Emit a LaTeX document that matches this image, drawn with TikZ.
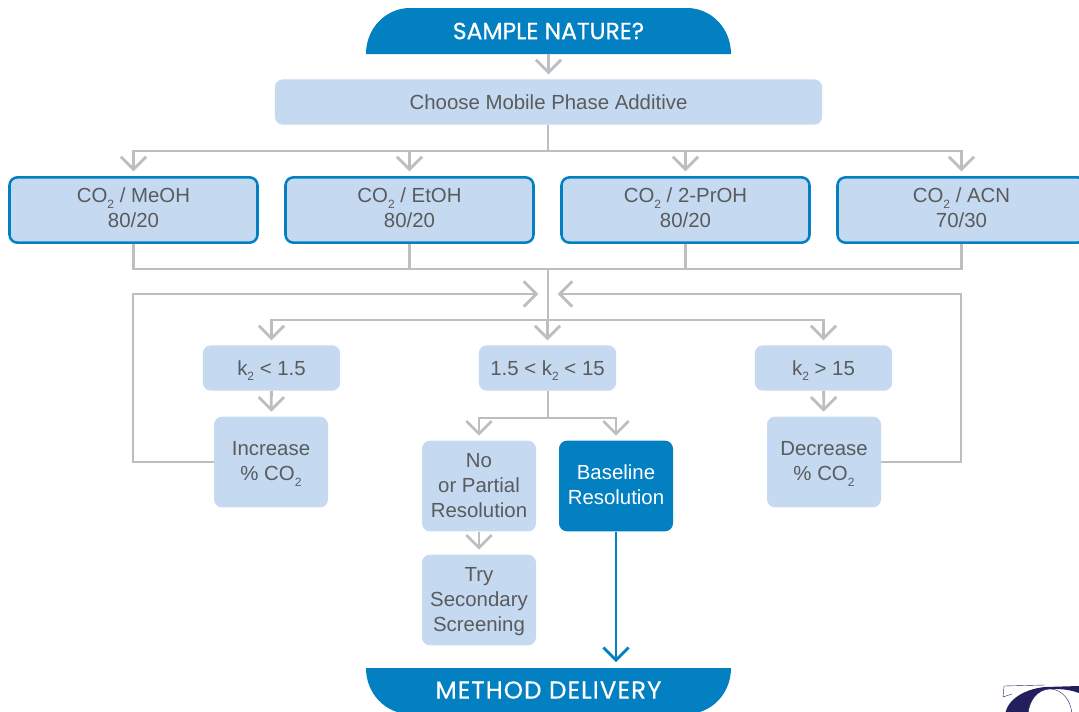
\documentclass[tikz,border=0pt]{standalone}
\usepackage{fontspec}
\setmainfont{Liberation Sans}
\newfontfamily\headfont{Poppins}[FakeBold=0.5]
\usetikzlibrary{arrows.meta, positioning}
\definecolor{brandblue}{HTML}{0380C2}
\definecolor{paleblue}{HTML}{C5D9F1}
\definecolor{linegrey}{HTML}{BCBEC0}
\definecolor{textgrey}{HTML}{5A5B5D}
\definecolor{logonavy}{HTML}{231F5C}
\tikzset{%
	box/.style={rectangle, rounded corners=6pt, fill=paleblue, text=textgrey, inner sep=0pt, align=center,%
		font=\fontsize{15.3}{18.75}\selectfont},
	additive/.style={box, minimum width=410.5pt, minimum height=34pt},
	solvent/.style={box, draw=brandblue, line width=1.9pt, minimum width=186pt, minimum height=49pt, text depth=3pt},
	kbox/.style={box, minimum width=103pt, minimum height=34pt},
	action/.style={box, minimum width=85.5pt, minimum height=68pt, text depth=0.8pt},
	goal/.style={action, fill=brandblue, text=white, text depth=1.5pt},
	banner/.style={rectangle, minimum width=273.75pt, minimum height=34.5pt, inner sep=0pt, text=white,%
		font=\headfont\fontsize{17.6}{20}\selectfont},
	flow/.style={-{Straight Barb[length=9.5pt, width=19pt, line width=2.1pt]}, linegrey, line width=2.1pt, shorten >=3.5pt},
	link/.style={linegrey, line width=2.1pt},
	final/.style={flow, brandblue}
}
\newcommand{\subtwo}{\raisebox{-0.5ex}[0pt][0pt]{\fontsize{9}{9}\selectfont 2}}

\begin{document}
\begin{tikzpicture}[x=0.75pt, y=-0.75pt]
  \useasboundingbox (0,0) rectangle (1079,711);

  \fill[brandblue] (366,54) .. controls (366,28) and (386,8) .. (410,8) -- (687,8) .. controls (711,8) and (731,28) .. (731,54) -- cycle;
  \fill[brandblue] (366,668) .. controls (366,694) and (386,714) .. (410,714) -- (687,714) .. controls (711,714) and (731,694) .. (731,668) -- cycle;
  \node[banner] (start) at (548.5,31) {SAMPLE NATURE?};
  \node[banner, font=\headfont\addfontfeature{LetterSpace=4.3}\fontsize{18.4}{20}\selectfont] (method) at (548.5,690) {METHOD DELIVERY};

  \node[additive] (choose) at (548.5,102) {Choose Mobile Phase Additive};

  \node[solvent] (meoh) at (133.5,210) {CO\subtwo{} / MeOH\\80/20};
  \node[solvent] (etoh) at (409.5,210) {CO\subtwo{} / EtOH\\80/20};
  \node[solvent] (proh) at (685.5,210) {CO\subtwo{} / 2-PrOH\\80/20};
  \node[solvent] (acn) at (961.5,210) {CO\subtwo{} / ACN\\70/30};

  \node[kbox] (klow) at (271.5,368) {k\subtwo{} < 1.5};
  \node[kbox] (kmid) at (547.5,368) {1.5 < k\subtwo{} < 15};
  \node[kbox] (khigh) at (823.5,368) {k\subtwo{} > 15};

  \node[action] (increase) at (271,462) {Increase\\\% CO\subtwo};
  \node[action] (decrease) at (824,462) {Decrease\\\% CO\subtwo};
  \node[action] (nores) at (479,486) {No\\or Partial\\Resolution};
  \node[goal] (baseline) at (616,486) {Baseline\\Resolution};
  \node[action] (secondary) at (479,600) {Try\\Secondary\\Screening};

  \coordinate (fan) at (548,151);
  \coordinate (merge) at (548,269);
  \coordinate (inleft) at (543,294);
  \coordinate (inright) at (553,294);
  \coordinate (split) at (548,320);
  \coordinate (resplit) at (548,418);
  \coordinate (cornerleft) at (133,294);
  \coordinate (cornerright) at (961,294);

  \draw[flow] (start) -- (choose);
  \foreach \solv in {meoh,etoh,proh,acn}{
    \draw[flow] (choose.south -| fan) -- (fan) -| (\solv.north);
    \draw[link] (\solv.south) |- (merge);
  }
  \draw[link] (merge) -- (split);
  \foreach \kval in {klow,kmid,khigh}{
    \draw[flow] (split) -| (\kval.north);
  }
  \draw[flow] (increase.west) -| (cornerleft) -- (inleft);
  \draw[flow] (decrease.east) -| (cornerright) -- (inright);
  \draw[flow] (klow) -- (increase);
  \draw[flow] (khigh) -- (decrease);
  \draw[flow] (kmid.south -| resplit) -- (resplit) -| (nores.north);
  \draw[flow] (resplit) -| (baseline.north);
  \draw[flow] (nores) -- (secondary);
  \draw[final] (baseline) -- (method.north -| baseline);

  \fill[logonavy] (1005,716) .. controls (1006,700) and (1024,689) .. (1045,687) -- (1079,686) -- (1079,693) .. controls (1068,689) and (1060,689) .. (1050,689) -- (1050,716) -- cycle;
  \fill[white, draw=logonavy, line width=0.3pt] (1050,716) ellipse [x radius=22, y radius=27];
  \draw[logonavy, line width=0.3pt] (1012,694) -- (1003,697) -- (1004,686) -- (1045,685);
\end{tikzpicture}
\end{document}
